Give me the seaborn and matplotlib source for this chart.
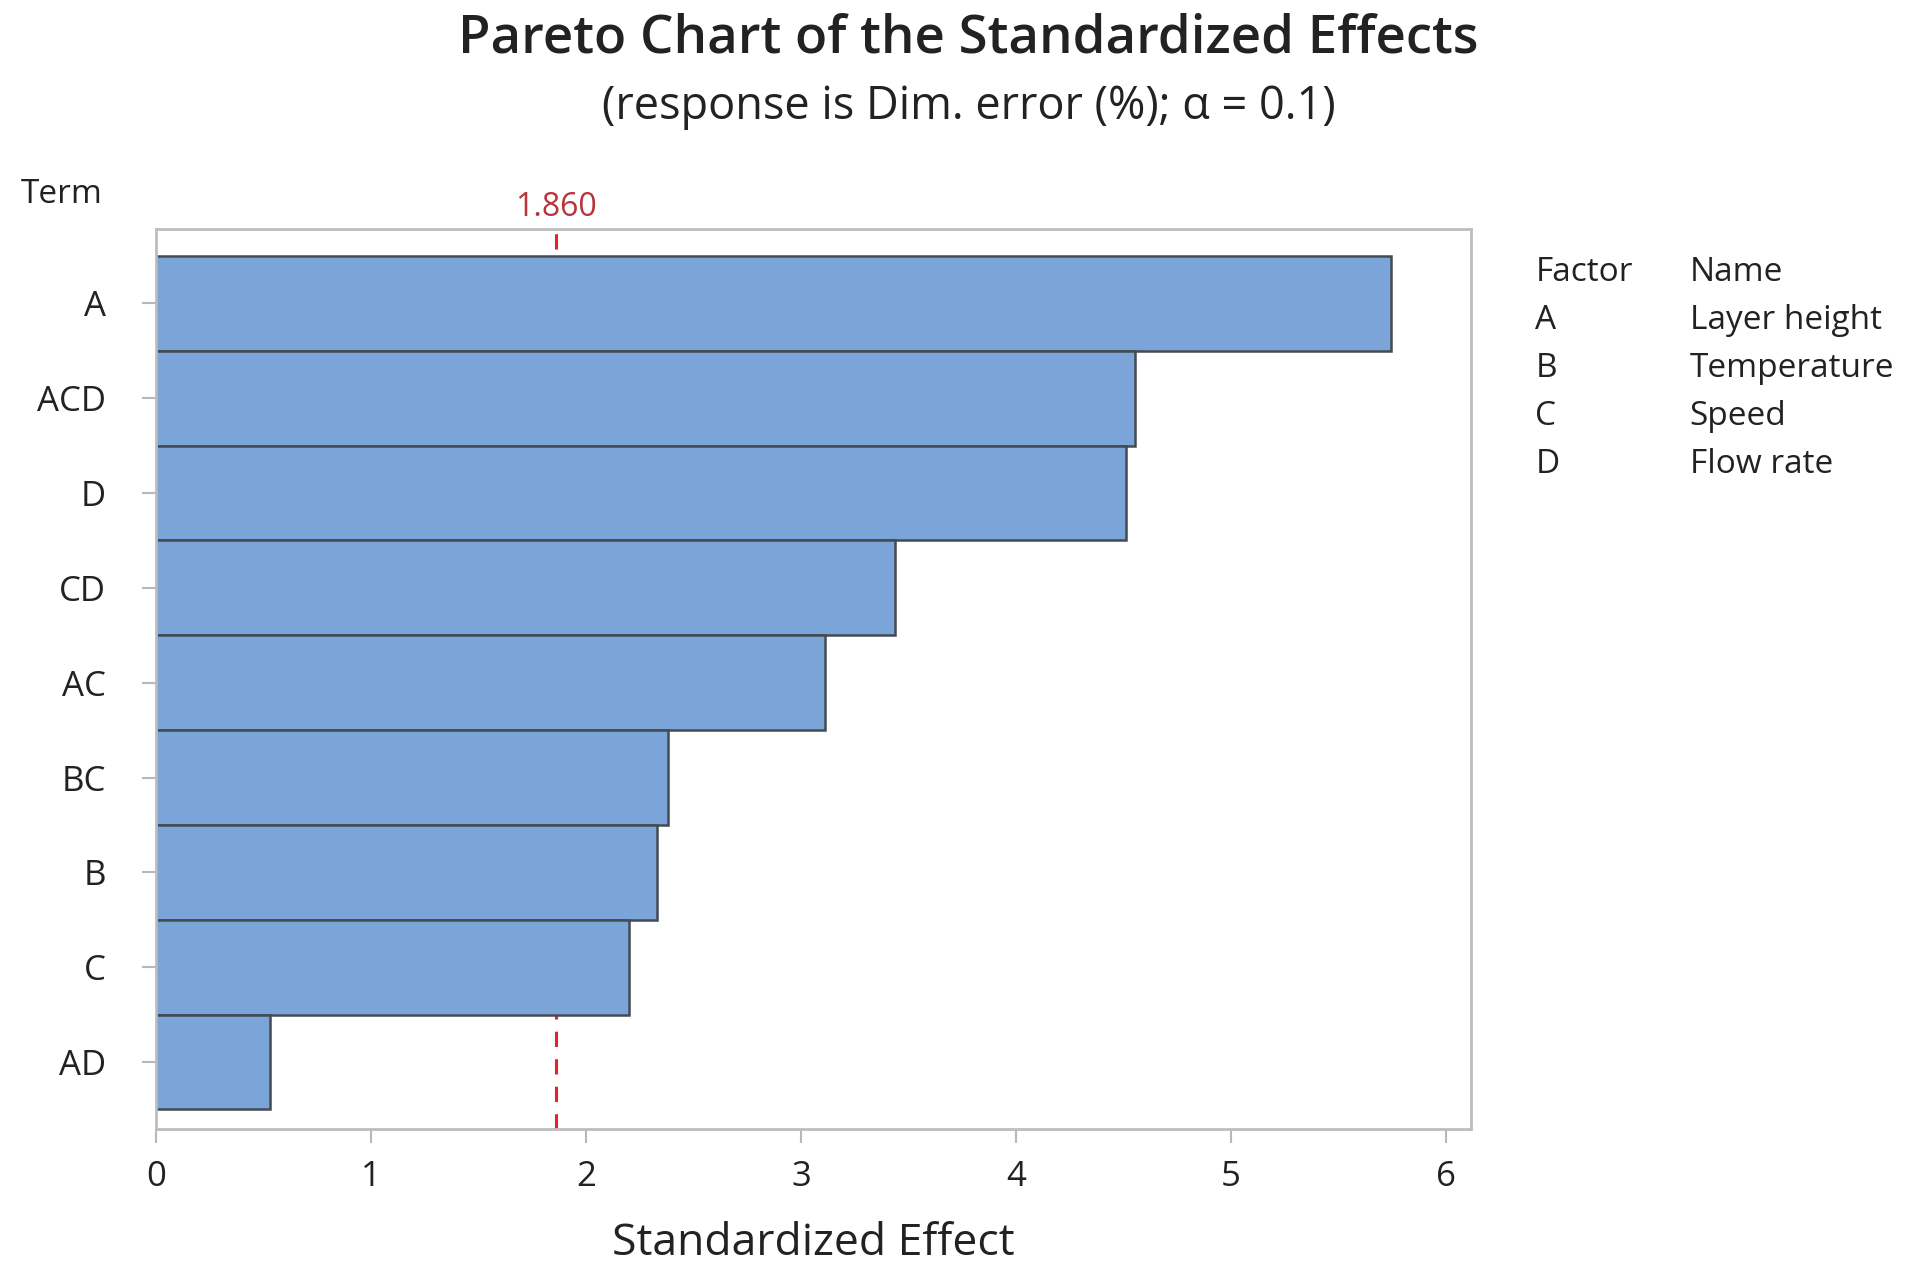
import pandas as pd
import matplotlib.pyplot as plt
import seaborn as sns

# data
terms = ["A", "ACD", "D", "CD", "AC", "BC", "B", "C", "AD"]
effects = [5.745, 4.556, 4.51, 3.436, 3.11, 2.383, 2.332, 2.20, 0.529]
critical = 1.860
factors = ["A", "B", "C", "D"]
factor_names = ["Layer height", "Temperature", "Speed", "Flow rate"]

df = pd.DataFrame({"Term": terms, "Effect": effects})

sns.set_style("white")
plt.rcParams["font.family"] = ["Open Sans", "DejaVu Sans"]

fig = plt.figure(figsize=(19.18, 12.79), dpi=100)
ax = fig.add_axes([0.0814, 0.117, 0.6853, 0.704])

# reference line behind the bars
ax.axvline(critical, color="#E8202A", linestyle=(0, (5, 4)), linewidth=2.2, zorder=0)

sns.barplot(data=df, x="Effect", y="Term", order=terms, orient="h",
            width=1.0, color="#7BA5D9", saturation=1, edgecolor="#444A52",
            linewidth=1.8, ax=ax, zorder=2)

ax.set_xlim(0, 6.115)
ax.set_ylim(len(terms) - 0.5 + 0.21, -0.5 - 0.285)
ax.set_xticks(range(0, 7))
ax.set_xlabel("Standardized Effect", fontsize=32, labelpad=20, color="#222222")
ax.set_ylabel("")
ax.tick_params(axis="both", direction="out", length=10, width=1.5,
               color="#B8B8B8", labelsize=25, labelcolor="#222222",
               bottom=True, left=True)
ax.tick_params(axis="x", pad=12)
ax.tick_params(axis="y", pad=26)
for s in ax.spines.values():
    s.set_color("#BDBDBD")
    s.set_linewidth(2)

ax.text(critical, 1.006, f"{critical:.3f}", transform=ax.get_xaxis_transform(),
        ha="center", va="bottom", color="#B8333A", fontsize=23)

fig.text(0.032, 0.835, "Term", fontsize=24, ha="center", va="bottom", color="#222222")

fig.suptitle("Pareto Chart of the Standardized Effects", x=0.505, y=0.99,
             fontsize=38, fontweight="semibold", color="#222222")
fig.text(0.505, 0.898, "(response is Dim. error (%); \u03b1 = 0.1)",
         ha="center", va="bottom", fontsize=32.5, color="#222222")

# factor table on the right
x1, x2 = 0.8005, 0.881
y0, dy = 0.787, 0.0375
fig.text(x1, y0, "Factor", fontsize=24, va="center", color="#222222")
fig.text(x2, y0, "Name", fontsize=24, va="center", color="#222222")
for i, (f, n) in enumerate(zip(factors, factor_names)):
    fig.text(x1, y0 - dy * (i + 1), f, fontsize=24, va="center", color="#222222")
    fig.text(x2, y0 - dy * (i + 1), n, fontsize=24, va="center", color="#222222")

plt.savefig("out.png", dpi=100)
plt.close()
